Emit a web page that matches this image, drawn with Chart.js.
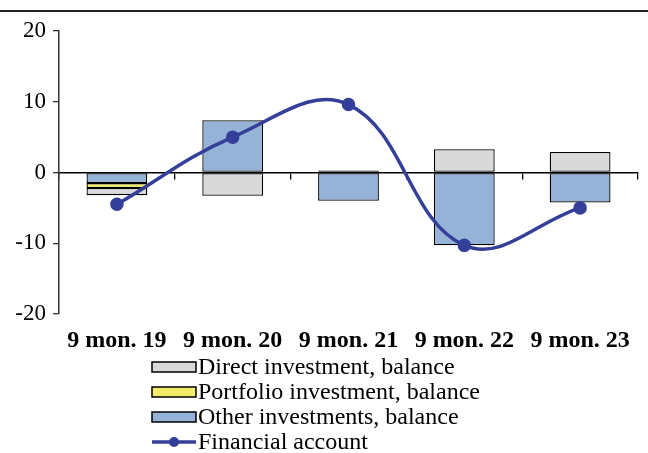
<!DOCTYPE html>
<html>
<head>
<meta charset="utf-8">
<script src="https://cdn.jsdelivr.net/npm/chart.js@4"></script>
<style>
  html, body { margin: 0; padding: 0; background: #fff; }
  #wrap { position: relative; width: 648px; height: 453px; }
  #rule { position: absolute; left: 0; top: 10px; width: 648px; height: 2px; background: #222; }
</style>
</head>
<body>
<div id="wrap">
  <div id="rule"></div>
  <canvas id="chart" width="648" height="453"></canvas>
</div>
<script>
const categories = ['9 mon. 19', '9 mon. 20', '9 mon. 21', '9 mon. 22', '9 mon. 23'];
const directInvestment = [-1.0, -3.2, 0.3, 3.3, 2.9];
const portfolioInvestment = [-0.7, -0.1, 0.0, 0.0, 0.0];
const otherInvestments = [-1.5, 7.4, -4.0, -10.3, -4.25];
const financialAccount = [-4.5, 5.0, 9.6, -10.3, -5.0];
const yTicks = [-20, -10, 0, 10, 20];

const serif = 'Liberation Serif, Times New Roman, serif';
const lineBlue = '#333f99';

// legend drawn by hand: boxes for bars, line with dot for the line
const legendPlugin = {
    id: 'stackLegend',
    afterDraw(chart) {
        const ctx = chart.ctx;
        const x0 = 152, w = 44, textX = 198;
        const rows = [367, 392, 417, 442];
        ctx.save();
        ctx.font = '24px ' + serif;
        ctx.textBaseline = 'middle';
        chart.data.datasets.forEach((ds, i) => {
            const y = rows[i];
            if (ds.type === 'line') {
                ctx.strokeStyle = ds.borderColor;
                ctx.lineWidth = 3.5;
                ctx.beginPath();
                ctx.moveTo(x0, y);
                ctx.lineTo(x0 + w, y);
                ctx.stroke();
                ctx.fillStyle = ds.borderColor;
                ctx.beginPath();
                ctx.arc(x0 + w / 2, y, 5, 0, Math.PI * 2);
                ctx.fill();
            } else {
                ctx.fillStyle = ds.backgroundColor;
                ctx.fillRect(x0, y - 5, w, 10);
                ctx.strokeStyle = '#000';
                ctx.lineWidth = 1.5;
                ctx.strokeRect(x0, y - 5, w, 10);
            }
            ctx.fillStyle = '#000';
            ctx.fillText(ds.label, textX, y + 1);
        });
        ctx.restore();
    }
};

const barCommon = {
    type: 'bar',
    stack: 'bars',
    borderColor: '#000',
    borderWidth: 1.3,
    borderSkipped: false,
    categoryPercentage: 1,
    barPercentage: 0.525
};

new Chart(document.getElementById('chart'), {
    data: {
        labels: categories,
        datasets: [
            { ...barCommon, label: 'Direct investment, balance', data: directInvestment, backgroundColor: '#d9d9d9', order: 3 },
            { ...barCommon, label: 'Portfolio investment, balance', data: portfolioInvestment, backgroundColor: '#f5ec6b', order: 2 },
            { ...barCommon, label: 'Other investments, balance', data: otherInvestments, backgroundColor: '#95b3d7', order: 1 },
            {
                type: 'line',
                label: 'Financial account',
                data: financialAccount,
                stack: 'line',
                borderColor: lineBlue,
                backgroundColor: lineBlue,
                borderWidth: 3.5,
                tension: 0.4,
                pointRadius: 5,
                pointBackgroundColor: lineBlue,
                pointBorderColor: lineBlue,
                order: 0
            }
        ]
    },
    options: {
        responsive: false,
        animation: false,
        layout: { padding: { top: 31, right: 10, bottom: 104, left: 0 } },
        plugins: {
            legend: { display: false },
            tooltip: { enabled: false }
        },
        scales: {
            x: {
                stacked: true,
                grid: { display: false },
                border: { display: false },
                ticks: {
                    color: '#000',
                    padding: 4,
                    font: { family: serif, size: 24, weight: 'bold' }
                },
                afterFit: s => { s.height = 35; }
            },
            xZero: {
                type: 'category',
                position: { y: 0 },
                offset: true,
                grid: { drawOnChartArea: false, offset: true, tickLength: 6, color: '#000', lineWidth: 1.3 },
                border: { color: '#000', width: 1.5 },
                ticks: { display: false }
            },
            y: {
                stacked: true,
                min: -20,
                max: 20,
                afterBuildTicks: s => { s.ticks = yTicks.map(v => ({ value: v })); },
                grid: { drawOnChartArea: false, tickLength: 6, color: '#333', lineWidth: 1.3 },
                border: { color: '#333', width: 1.5 },
                ticks: {
                    color: '#000',
                    padding: 7,
                    font: { family: serif, size: 23 }
                },
                afterFit: s => { s.width = 59; }
            }
        }
    },
    plugins: [legendPlugin]
});
</script>
</body>
</html>
